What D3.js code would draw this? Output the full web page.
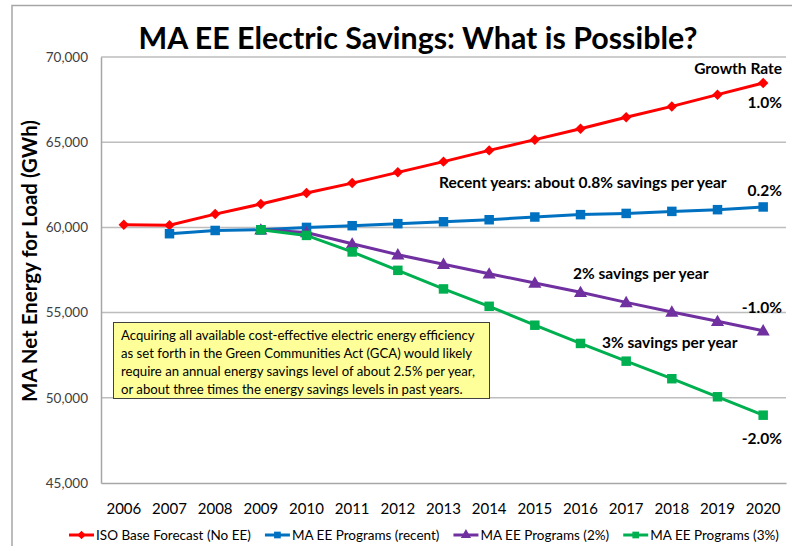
<!DOCTYPE html>
<html>
<head>
<meta charset="utf-8">
<script src="https://cdn.jsdelivr.net/npm/d3@7"></script>
<style>
  body { margin: 0; background: #fff; }
  svg { display: block; font-family: Lato, "Open Sans", sans-serif; }
</style>
</head>
<body>
<svg id="chart" width="792" height="546"></svg>
<script>
// Chart data (GWh)
const years = [2006, 2007, 2008, 2009, 2010, 2011, 2012, 2013, 2014, 2015, 2016, 2017, 2018, 2019, 2020];
const isoBase = [60160, 60130, 60780, 61370, 62020, 62600, 63230, 63860, 64520, 65150, 65790, 66460, 67100, 67790, 68470];
const eeRecent = [null, 59630, 59820, 59860, 60000, 60100, 60220, 60330, 60450, 60610, 60750, 60820, 60940, 61040, 61200];
const ee2 = [null, null, null, 59860, 59700, 59040, 58400, 57840, 57280, 56740, 56190, 55600, 55040, 54490, 53940];
const ee3 = [null, null, null, 59860, 59530, 58560, 57480, 56390, 55370, 54260, 53190, 52150, 51120, 50060, 48980];
const yTicks = [45000, 50000, 55000, 60000, 65000, 70000];

const seriesNames = ["ISO Base Forecast (No EE)", "MA EE Programs (recent)", "MA EE Programs (2%)", "MA EE Programs (3%)"];
const growthLabels = ["1.0%", "0.2%", "-1.0%", "-2.0%"];
const noteLines = [
  "Acquiring all available cost-effective electric energy efficiency",
  "as set forth in the Green Communities Act (GCA) would likely",
  "require an annual energy savings level of about 2.5% per year,",
  "or about three times the energy savings levels in past years."
];

const series = [
  { name: seriesNames[0], values: isoBase, color: "#ff0000", marker: "diamond" },
  { name: seriesNames[1], values: eeRecent, color: "#0070c0", marker: "square" },
  { name: seriesNames[2], values: ee2, color: "#7030a0", marker: "triangle" },
  { name: seriesNames[3], values: ee3, color: "#00b050", marker: "square" }
];

const svg = d3.select("#chart");

// shrink/grow font-size so the text is exactly the wanted width
function fitText(sel, target) {
  const size = parseFloat(sel.attr("font-size"));
  const len = sel.node().getComputedTextLength();
  sel.attr("font-size", (size * target / len).toFixed(2));
  return sel;
}

// outer chart border
svg.append("path")
  .attr("d", "M12,546 L12,5.5 L792,5.5")
  .attr("fill", "none")
  .attr("stroke", "#a6a6a6")
  .attr("stroke-width", 1.5);

// plot area
const plot = { left: 101, right: 786, top: 57, bottom: 483 };

const x = d3.scaleBand()
  .domain(years)
  .range([plot.left, plot.right]);

const y = d3.scaleLinear()
  .domain([45000, 70000])
  .range([plot.bottom, plot.top]);

// gridlines
svg.selectAll(".grid")
  .data(yTicks.slice(1))
  .enter()
  .append("line")
  .attr("class", "grid")
  .attr("x1", plot.left)
  .attr("x2", plot.right)
  .attr("y1", d => y(d))
  .attr("y2", d => y(d))
  .attr("stroke", "#bdbdbd")
  .attr("stroke-width", 1.5);

// y axis
const yAxis = svg.append("g")
  .attr("transform", `translate(${plot.left},0)`)
  .call(d3.axisLeft(y).tickValues(yTicks).tickSize(0).tickPadding(13).tickFormat(d3.format(",")));
yAxis.select(".domain").attr("stroke", "#a6a6a6").attr("stroke-width", 1.5);
yAxis.selectAll("text")
  .attr("font-family", "Lato")
  .attr("font-size", 13.5)
  .attr("fill", "#404040");

// x axis
const xAxis = svg.append("g")
  .attr("transform", `translate(0,${plot.bottom})`)
  .call(d3.axisBottom(x).tickSize(0).tickPadding(20));
xAxis.select(".domain").attr("stroke", "#a6a6a6").attr("stroke-width", 1.5);
xAxis.selectAll("text")
  .attr("font-family", "Lato")
  .attr("font-size", 15)
  .attr("fill", "#000");

// title
fitText(svg.append("text")
  .attr("x", 418)
  .attr("y", 49)
  .attr("text-anchor", "middle")
  .attr("font-weight", "bold")
  .attr("font-size", 28)
  .text("MA EE Electric Savings: What is Possible?"), 559);

// y axis title
fitText(svg.append("text")
  .attr("transform", "translate(37,261) rotate(-90)")
  .attr("text-anchor", "middle")
  .attr("font-weight", "bold")
  .attr("font-size", 20)
  .text("MA Net Energy for Load (GWh)"), 282);

// marker shapes
const symbols = {
  diamond: d3.symbol().type(d3.symbolDiamond2).size(70),
  square: d3.symbol().type(d3.symbolSquare).size(90),
  triangle: d3.symbol().type(d3.symbolTriangle).size(75)
};

const line = d3.line()
  .defined(d => d.v !== null)
  .x(d => x(d.year) + x.bandwidth() / 2)
  .y(d => y(d.v));

series.forEach(s => {
  const pts = years.map((yr, i) => ({ year: yr, v: s.values[i] }));
  const g = svg.append("g");
  g.append("path")
    .datum(pts)
    .attr("d", line)
    .attr("fill", "none")
    .attr("stroke", s.color)
    .attr("stroke-width", 3);
  g.selectAll(".dot")
    .data(pts.filter(d => d.v !== null))
    .enter()
    .append("path")
    .attr("d", symbols[s.marker])
    .attr("transform", d => `translate(${x(d.year) + x.bandwidth() / 2},${y(d.v) + (s.marker === "triangle" ? 1 : 0)})`)
    .attr("fill", s.color);
});

// note box
svg.append("rect")
  .attr("x", 113.5)
  .attr("y", 322.5)
  .attr("width", 376)
  .attr("height", 76)
  .attr("fill", "#ffff99")
  .attr("stroke", "#404040")
  .attr("stroke-width", 1);

const first = svg.append("text")
  .attr("x", 121)
  .attr("y", 340)
  .attr("font-size", 14)
  .text(noteLines[0]);
fitText(first, 354);
const noteSize = first.attr("font-size");
noteLines.slice(1).forEach((t, i) => {
  svg.append("text")
    .attr("x", 121)
    .attr("y", 340 + (i + 1) * 18)
    .attr("font-size", noteSize)
    .text(t);
});

// series annotations
function bold(txt, xPos, yPos, anchor, width) {
  const t = svg.append("text")
    .attr("x", xPos)
    .attr("y", yPos)
    .attr("text-anchor", anchor)
    .attr("dominant-baseline", "central")
    .attr("font-weight", "bold")
    .attr("font-size", 14)
    .text(txt);
  if (width) fitText(t, width);
  return t;
}
const refSize = bold("Recent years: about 0.8% savings per year", 439, 182, "start", 288).attr("font-size");
bold("Growth Rate", 782, 68, "end").attr("font-size", refSize);
bold("2% savings per year", 573, 273, "start").attr("font-size", refSize);
bold("3% savings per year", 602, 342, "start").attr("font-size", refSize);
const pctY = [102, 190, 307, 438];
growthLabels.forEach((t, i) => bold(t, 782, pctY[i], "end").attr("font-size", refSize));

// legend
const legend = svg.append("g");
let lx = 0;
series.forEach((s, i) => {
  const item = legend.append("g").attr("transform", `translate(${lx},0)`);
  item.append("line")
    .attr("x1", 0).attr("x2", 25)
    .attr("stroke", s.color)
    .attr("stroke-width", 3);
  item.append("path")
    .attr("d", d3.symbol().type(s.marker === "diamond" ? d3.symbolDiamond2 : s.marker === "square" ? d3.symbolSquare : d3.symbolTriangle).size(45))
    .attr("transform", "translate(12.5,0)")
    .attr("fill", s.color);
  const t = item.append("text")
    .attr("x", 27)
    .attr("dominant-baseline", "central")
    .attr("font-size", 13)
    .attr("fill", "#000")
    .text(s.name);
  if (i === 0) fitText(t, 155);
  else t.attr("font-size", legend.select("text").attr("font-size"));
  lx += 27 + t.node().getComputedTextLength() + 14;
});
lx -= 14;
legend.attr("transform", `translate(${424 - lx / 2},535)`);
</script>
</body>
</html>
